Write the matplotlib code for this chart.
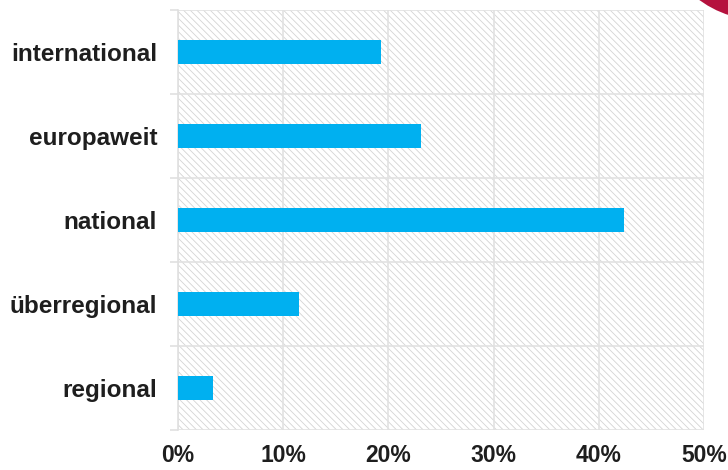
import matplotlib.pyplot as plt
import numpy as np
from matplotlib.patches import Rectangle, Circle

plt.rcParams['font.family'] = ['Liberation Sans', 'DejaVu Sans']
plt.rcParams['hatch.linewidth'] = 0.6
plt.rcParams['hatch.color'] = '#d4d4d4'

# data (percent)
categories = ['regional', 'überregional', 'national', 'europaweit', 'international']
values = [3.3, 11.5, 42.4, 23.1, 19.3]
xticks = [0, 10, 20, 30, 40, 50]
xtick_labels = ['0%', '10%', '20%', '30%', '40%', '50%']

fig = plt.figure(figsize=(7.28, 4.70), dpi=100)
ax = fig.add_axes([178/728, 40/470, 526/728, 420/470])

# hatched plot background
ax.add_patch(Rectangle((0, 0), 1, 1, transform=ax.transAxes, facecolor='white',
                       edgecolor='#d4d4d4', hatch='\\\\\\\\\\', linewidth=0, zorder=0))

y = np.arange(len(categories))
ax.barh(y, values, height=0.29, color='#00b0f0', zorder=3)

ax.set_xlim(0, 50)
ax.set_ylim(-0.5, len(categories) - 0.5)
ax.set_xticks(xticks)
ax.set_xticklabels(xtick_labels, fontsize=16.5, fontweight='bold', color='#1e1e1e')
ax.set_yticks(y)
ax.set_yticklabels(categories, fontsize=17.5, fontweight='bold', color='#1e1e1e')
ax.set_yticks(np.arange(-0.5, len(categories)), minor=True)

ax.tick_params(axis='x', length=0, pad=10)
ax.tick_params(axis='y', which='major', length=0, pad=15)
ax.tick_params(axis='y', which='minor', length=6, color='#e0e0e0', width=1.2)

ax.grid(axis='x', color='#e2e2e2', linewidth=1.2, zorder=1)
ax.grid(axis='y', which='minor', color='#e2e2e2', linewidth=1.2, zorder=1)
for s in ['top', 'right', 'bottom']:
    ax.spines[s].set_visible(False)
ax.spines['left'].set_color('#e0e0e0')
ax.spines['left'].set_linewidth(1.2)
ax.set_axisbelow(True)

# crimson circle cut by the top-right corner
fig.add_artist(Circle((760, 470 + 82), 102, transform=None, facecolor='#b5123e',
                      edgecolor='none', zorder=10))

fig.savefig('out.png', dpi=100)
